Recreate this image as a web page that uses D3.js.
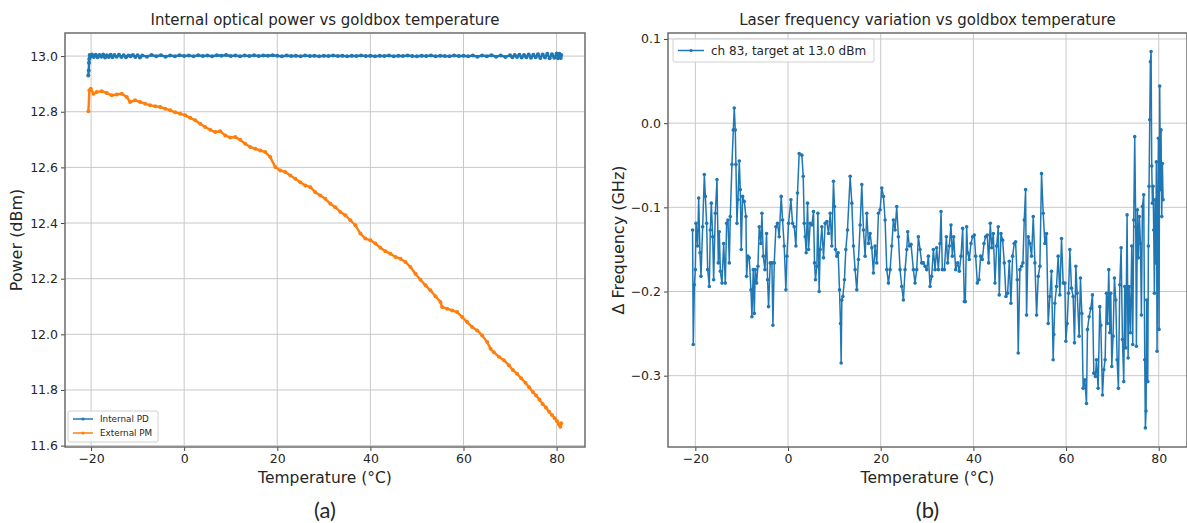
<!DOCTYPE html>
<html>
<head>
<meta charset="utf-8">
<script src="https://cdn.jsdelivr.net/npm/d3@7"></script>
<style>
  body { margin: 0; background: #fff; }
  svg text { font-family: 'DejaVu Sans', sans-serif; fill: #262626; }
</style>
</head>
<body>
<div id="chart"></div>
<script>
// ---- data ----
var tempTicks = [-20, 0, 20, 40, 60, 80]
var powerTicks = [11.6, 11.8, 12.0, 12.2, 12.4, 12.6, 12.8, 13.0]
var freqTicks = [-0.3, -0.2, -0.1, 0.0, 0.1]

// internal PD (temperature, dBm)
var intPdTemp = [-20.6, -20.5, -20.45, -20.4, -20.3, -20.1, -19.8, -19.4, -19.0, -18.6, -18.2, -17.8, -17.4, -17.0, -16.6, -16.2, -15.8, -15.4, -15.0, -14.5, -14.0, -13.5, -13.0, -12.5, -12.0, -11.5, -11.0, -10.5, -10.0, -9.5, -9.0, -8, -7, -6, -5, -4, -3, -2, -1, 0, 1, 2, 3, 4, 5, 6, 7, 8, 9, 10, 11, 12, 13, 14, 15, 16, 17, 18, 19, 20, 21, 22, 23, 24, 25, 26, 27, 28, 29, 30, 31, 32, 33, 34, 35, 36, 37, 38, 39, 40, 41, 42, 43, 44, 45, 46, 47, 48, 49, 50, 51, 52, 53, 54, 55, 56, 57, 58, 59, 60, 61, 62, 63, 64, 65, 66, 67, 68, 69, 70, 70.5, 71, 71.5, 72, 72.5, 73, 73.5, 74, 74.5, 75, 75.5, 76, 76.5, 77, 77.5, 78, 78.5, 79, 79.5, 80, 80.3, 80.6, 80.9, 81.0]
var intPdPower = [12.93, 12.948, 12.976, 12.99, 13.004, 12.998, 13.006, 12.997, 13.005, 12.996, 13.004, 12.998, 13.006, 12.995, 13.003, 12.997, 13.005, 12.996, 13.004, 12.998, 13.005, 12.997, 13.003, 12.996, 13.002, 12.999, 13.004, 12.997, 13.003, 12.995, 13.002, 12.998, 13.004, 12.999, 13.003, 12.998, 13.002, 12.999, 13.003, 13.0, 13.002, 12.999, 13.003, 13.0, 13.002, 12.999, 13.003, 13.001, 13.004, 13.0, 13.002, 12.999, 13.002, 13.0, 13.003, 13.0, 13.002, 13.001, 13.003, 13.001, 12.999, 13.002, 13.0, 13.001, 12.999, 13.002, 13.0, 13.001, 12.999, 13.001, 13.0, 13.002, 13.0, 13.001, 12.999, 13.001, 13.0, 13.002, 13.0, 13.001, 12.999, 13.001, 13.0, 13.002, 12.999, 13.001, 13.0, 13.002, 13.0, 12.999, 13.001, 13.0, 13.002, 12.999, 13.001, 13.0, 12.999, 13.002, 13.0, 13.001, 12.999, 13.002, 12.998, 13.002, 12.999, 13.003, 12.998, 13.002, 12.997, 13.003, 12.996, 13.004, 12.997, 13.005, 12.995, 13.004, 12.996, 13.006, 12.994, 13.005, 12.996, 13.007, 12.993, 13.006, 12.995, 13.008, 12.992, 13.007, 12.994, 13.009, 12.992, 13.008, 12.993, 13.004]

// external PM (temperature, dBm)
var extPmTemp = [-20.57, -20.36, -20.07, -19.5, -18.78, -17.71, -16.63, -15.56, -14.48, -13.4, -12.33, -11.61, -10.54, -9.46, -8.39, -7.31, -6.24, -5.16, -4.09, -3.01, -1.94, -0.86, 0.22, 1.29, 2.37, 3.44, 4.52, 5.59, 6.67, 7.74, 8.82, 9.89, 10.97, 12.04, 13.12, 14.19, 15.27, 16.34, 17.42, 18.49, 19.57, 20.65, 21.72, 22.8, 23.87, 24.95, 26.02, 27.1, 28.17, 29.25, 30.32, 31.4, 32.47, 33.55, 34.62, 35.7, 36.77, 37.85, 38.92, 40.0, 41.08, 42.15, 43.23, 44.3, 45.38, 46.45, 47.53, 48.6, 49.68, 50.75, 51.83, 52.9, 53.98, 55.05, 55.41, 56.49, 57.56, 58.64, 59.71, 60.79, 61.86, 62.94, 64.01, 65.09, 65.81, 66.52, 67.6, 68.67, 69.75, 70.6, 71.5, 72.4, 73.3, 74.1, 74.9, 75.6, 76.3, 77.0, 77.7, 78.4, 79.0, 79.6, 80.1, 80.5, 80.8, 81.0]
var extPmPower = [12.802, 12.877, 12.883, 12.865, 12.871, 12.874, 12.867, 12.859, 12.862, 12.865, 12.853, 12.835, 12.841, 12.835, 12.829, 12.823, 12.82, 12.817, 12.811, 12.805, 12.798, 12.793, 12.787, 12.778, 12.769, 12.757, 12.745, 12.735, 12.727, 12.73, 12.715, 12.707, 12.709, 12.699, 12.685, 12.673, 12.667, 12.661, 12.655, 12.637, 12.601, 12.589, 12.583, 12.571, 12.559, 12.547, 12.535, 12.529, 12.511, 12.499, 12.487, 12.469, 12.457, 12.44, 12.428, 12.41, 12.392, 12.362, 12.344, 12.338, 12.326, 12.311, 12.299, 12.29, 12.278, 12.272, 12.26, 12.242, 12.218, 12.196, 12.176, 12.158, 12.137, 12.116, 12.098, 12.092, 12.086, 12.08, 12.062, 12.044, 12.026, 12.014, 11.996, 11.972, 11.948, 11.936, 11.919, 11.907, 11.889, 11.872, 11.858, 11.842, 11.826, 11.81, 11.793, 11.78, 11.766, 11.75, 11.737, 11.722, 11.71, 11.698, 11.688, 11.676, 11.668, 11.68]

// laser frequency variation (temperature, GHz)
var freqTemp = [-20.6, -20.45, -20.2, -20.0, -19.86, -19.5, -19.28, -19.0, -18.78, -18.42, -18.06, -17.84, -17.56, -17.34, -16.98, -16.77, -16.55, -16.26, -16.05, -15.69, -15.33, -15.04, -14.83, -14.6, -14.25, -13.89, -13.53, -13.25, -12.96, -12.67, -12.46, -12.1, -11.81, -11.6, -11.38, -11.24, -11.02, -10.8, -10.52, -10.3, -10.09, -9.8, -9.44, -9.08, -8.94, -8.65, -8.36, -8.0, -7.79, -7.5, -7.28, -7.07, -6.78, -6.49, -6.21, -5.85, -5.63, -5.34, -4.98, -4.63, -4.41, -4.2, -3.84, -3.48, -3.26, -2.97, -2.61, -2.26, -1.9, -1.47, -1.18, -0.82, -0.46, -0.24, 0.11, 0.62, 0.98, 1.34, 1.7, 2.05, 2.41, 2.99, 3.28, 3.5,
  3.71, 3.92, 4.21, 4.43, 4.79, 5.14, 5.5, 5.72, 5.93, 6.22, 6.44, 6.72, 6.94, 7.3, 7.66, 8.02, 8.38, 8.74, 9.1, 9.45, 9.81, 10.03, 10.24, 10.53, 10.82, 11.11, 11.32, 11.47, 11.61, 11.83, 12.18, 12.47, 12.83, 13.41, 13.77, 14.12, 14.48, 14.84, 15.2, 15.56, 15.92, 16.28, 16.64, 17.0, 17.36, 17.72, 18.08, 18.43, 18.79, 19.15, 19.51, 19.87, 20.23, 20.59, 20.95, 21.31, 21.67, 22.03, 22.39, 22.74, 23.1, 23.46, 23.82, 24.18, 24.54, 24.9, 25.26, 25.62, 25.83, 26.19, 26.55, 27.05, 27.41, 27.77, 28.13, 28.49, 28.85, 29.21, 29.57,
  29.93, 30.29, 30.65, 31.0, 31.37, 31.73, 32.08, 32.44, 32.8, 33.02, 33.3, 33.74, 34.17, 34.46, 34.81, 35.17, 35.46, 35.75, 36.18, 36.61, 36.97, 37.33, 37.69, 38.05, 38.26, 38.55, 38.77, 39.12, 39.48, 39.84, 40.2, 40.49, 40.85, 41.21, 41.57, 41.93, 42.29, 42.64, 43.0, 43.29, 43.65, 43.94, 44.3, 44.66, 45.02, 45.37, 45.59, 45.95, 46.31, 46.67, 47.03, 47.39, 47.75, 48.1, 48.46, 48.82, 49.11, 49.47, 49.68, 50.04, 50.4, 50.69, 50.98, 51.27, 51.48, 51.84, 52.2, 52.56, 52.92, 53.28, 53.64, 54.0, 54.35, 54.71, 55.07, 55.43, 55.79,
  56.15, 56.5, 56.86, 57.22, 57.37, 57.58, 57.94, 58.3, 58.66, 59.02, 59.38, 59.74, 59.95, 60.24, 60.53, 60.82, 61.17, 61.53, 61.82, 62.11, 62.4, 62.83, 63.11, 63.4, 63.69, 64.05, 64.41, 64.62, 64.98, 65.34, 65.7, 65.99, 66.35, 66.56, 66.92, 67.28, 67.5, 67.86, 68.14, 68.43, 68.72, 68.93, 69.22, 69.44, 69.65, 69.87, 70.15, 70.44, 70.73, 71.02, 71.3, 71.59, 71.88, 72.17, 72.45, 72.67, 72.88, 73.17, 73.39, 73.6, 73.89, 74.18, 74.39, 74.61, 74.82, 75.04, 75.18, 75.4, 75.61, 75.83, 76.05, 76.26, 76.48, 76.76, 76.98, 77.12, 77.27, 77.41, 77.63, 77.77, 77.91, 78.06, 78.2, 78.35, 78.49, 78.63, 78.78, 78.92, 79.06, 79.21, 79.35, 79.49, 79.64, 79.78, 79.93, 80.07, 80.21, 80.36, 80.5, 80.65, 80.79, 80.94]
var freqShift = [-0.127, -0.263, -0.192, -0.174, -0.119, -0.146, -0.089, -0.154, -0.182, -0.123, -0.061, -0.087, -0.119, -0.174, -0.194, -0.127, -0.095, -0.135, -0.186, -0.107, -0.067, -0.166, -0.129, -0.176, -0.19, -0.143, -0.19, -0.119, -0.115, -0.166, -0.111, -0.049, -0.008, 0.018, -0.008, -0.049, -0.119, -0.091, -0.045, -0.079, -0.15, -0.087, -0.093, -0.111, -0.182, -0.158, -0.16, -0.198, -0.23, -0.174, -0.226, -0.174, -0.19, -0.17, -0.123, -0.143, -0.107, -0.158, -0.174, -0.131, -0.186, -0.218, -0.166, -0.166, -0.24, -0.166, -0.123, -0.119, -0.135, -0.087, -0.115, -0.146, -0.198, -0.158, -0.119, -0.091, -0.119, -0.123, -0.146, -0.083, -0.036, -0.038, -0.063, -0.119,
  -0.135, -0.154, -0.095, -0.15, -0.119, -0.121, -0.105, -0.166, -0.186, -0.17, -0.107, -0.2, -0.15, -0.123, -0.16, -0.119, -0.117, -0.131, -0.107, -0.146, -0.069, -0.099, -0.15, -0.158, -0.154, -0.198, -0.238, -0.285, -0.21, -0.206, -0.186, -0.15, -0.127, -0.063, -0.095, -0.146, -0.174, -0.198, -0.162, -0.121, -0.073, -0.127, -0.158, -0.107, -0.143, -0.131, -0.148, -0.178, -0.146, -0.166, -0.107, -0.103, -0.077, -0.087, -0.115, -0.174, -0.19, -0.174, -0.146, -0.115, -0.127, -0.099, -0.135, -0.174, -0.194, -0.21, -0.174, -0.15, -0.129, -0.146, -0.144, -0.174, -0.19, -0.174, -0.135, -0.15, -0.166, -0.166, -0.17,
  -0.174, -0.158, -0.194, -0.182, -0.15, -0.174, -0.148, -0.174, -0.143, -0.105, -0.174, -0.174, -0.135, -0.166, -0.146, -0.121, -0.158, -0.135, -0.174, -0.166, -0.176, -0.158, -0.125, -0.212, -0.212, -0.123, -0.154, -0.162, -0.143, -0.135, -0.133, -0.158, -0.19, -0.186, -0.158, -0.162, -0.143, -0.135, -0.133, -0.166, -0.119, -0.148, -0.131, -0.19, -0.146, -0.123, -0.204, -0.131, -0.139, -0.166, -0.206, -0.202, -0.164, -0.214, -0.158, -0.143, -0.141, -0.186, -0.273, -0.174, -0.17, -0.166, -0.115, -0.079, -0.228, -0.135, -0.143, -0.158, -0.111, -0.166, -0.228, -0.182, -0.17, -0.06, -0.107, -0.143, -0.131,
  -0.238, -0.206, -0.176, -0.281, -0.251, -0.214, -0.194, -0.158, -0.204, -0.137, -0.19, -0.19, -0.259, -0.238, -0.202, -0.15, -0.196, -0.206, -0.261, -0.17, -0.202, -0.253, -0.184, -0.226, -0.315, -0.305, -0.333, -0.245, -0.23, -0.22, -0.204, -0.297, -0.301, -0.281, -0.315, -0.218, -0.24, -0.323, -0.293, -0.281, -0.202, -0.238, -0.174, -0.249, -0.202, -0.289, -0.253, -0.184, -0.21, -0.281, -0.315, -0.192, -0.148, -0.257, -0.307, -0.194, -0.267, -0.109, -0.279, -0.194, -0.249, -0.146, -0.263, -0.115, -0.016, -0.123, -0.265, -0.103, -0.16, -0.111, -0.143, -0.228, -0.099, -0.085, -0.281, -0.362, -0.342, -0.21, -0.307, -0.146, -0.075, 0.004, 0.073, 0.085, -0.051, -0.095, -0.075, -0.127, -0.202, -0.091, -0.166, -0.046, -0.271, -0.123, -0.018, -0.245, 0.044, -0.079, -0.008, -0.111, -0.048, -0.091]

var BLUE = '#1f77b4'
var ORANGE = '#ff7f0e'

var svg = d3.select('#chart').append('svg')
  .attr('width', 1187)
  .attr('height', 523)

function zip (xs, ys) {
  return xs.map(function (x, i) { return {x: x, y: ys[i]} })
}

// one matplotlib-like panel
function panel (opt) {
  var x = d3.scaleLinear().domain(opt.xDomain).range([opt.left, opt.right])
  var y = d3.scaleLinear().domain(opt.yDomain).range([opt.bottom, opt.top])
  var g = svg.append('g')

  // grid
  g.append('g').selectAll('line.vx').data(tempTicks).enter().append('line')
    .attr('x1', function (d) { return x(d) }).attr('x2', function (d) { return x(d) })
    .attr('y1', opt.top).attr('y2', opt.bottom)
    .attr('stroke', '#c8c8c8').attr('stroke-width', 1)
  g.append('g').selectAll('line.hy').data(opt.yTicks).enter().append('line')
    .attr('y1', function (d) { return y(d) }).attr('y2', function (d) { return y(d) })
    .attr('x1', opt.left).attr('x2', opt.right)
    .attr('stroke', '#c8c8c8').attr('stroke-width', 1)

  // series
  opt.series.forEach(function (s) {
    var line = d3.line().x(function (d) { return x(d.x) }).y(function (d) { return y(d.y) })
    g.append('path').datum(s.data)
      .attr('d', line)
      .attr('fill', 'none')
      .attr('stroke', s.color)
      .attr('stroke-width', opt.lineWidth)
      .attr('stroke-linejoin', 'round')
    g.append('g').selectAll('circle').data(s.data).enter().append('circle')
      .attr('cx', function (d) { return x(d.x) })
      .attr('cy', function (d) { return y(d.y) })
      .attr('r', opt.dot)
      .attr('fill', s.color)
  })

  // axes
  var xAxis = d3.axisBottom(x).tickValues(tempTicks).tickSize(4).tickPadding(3)
    .tickFormat(function (d) { return d < 0 ? '\u2212' + Math.abs(d) : d })
  var yAxis = d3.axisLeft(y).tickValues(opt.yTicks).tickSize(4).tickPadding(3)
    .tickFormat(function (d) { return (d < 0 ? '\u2212' : '') + Math.abs(d).toFixed(1) })
  var ax = g.append('g').attr('transform', 'translate(0,' + opt.bottom + ')').call(xAxis)
  var ay = g.append('g').attr('transform', 'translate(' + opt.left + ',0)').call(yAxis)
  ;[ax, ay].forEach(function (a) {
    a.select('.domain').remove()
    a.selectAll('line').attr('stroke', '#444')
    a.selectAll('text').attr('font-size', 12.5).attr('font-family', 'DejaVu Sans').attr('fill', '#262626')
  })

  // frame
  g.append('rect')
    .attr('x', opt.left).attr('y', opt.top)
    .attr('width', opt.right - opt.left).attr('height', opt.bottom - opt.top)
    .attr('fill', 'none').attr('stroke', '#6b6b6b').attr('stroke-width', 1.5)

  var cx = (opt.left + opt.right) / 2
  g.append('text').attr('x', cx).attr('y', 25)
    .attr('text-anchor', 'middle').attr('font-size', 15).text(opt.title)
  g.append('text').attr('x', cx).attr('y', 483)
    .attr('text-anchor', 'middle').attr('font-size', 15.5).text('Temperature (\u00b0C)')
  g.append('text')
    .attr('transform', 'translate(' + opt.yLabelX + ',' + (opt.top + opt.bottom) / 2 + ') rotate(-90)')
    .attr('text-anchor', 'middle').attr('font-size', 16).text(opt.yLabel)
  g.append('text').attr('x', cx).attr('y', 518)
    .attr('text-anchor', 'middle').attr('font-size', 22)
    .style('font-family', 'Lato, sans-serif').text(opt.caption)

  // legend
  var lg = g.append('g').attr('transform', 'translate(' + opt.legend.x + ',' + opt.legend.y + ')')
  lg.append('rect').attr('width', opt.legend.w).attr('height', opt.legend.h)
    .attr('rx', 2).attr('fill', '#fff').attr('fill-opacity', 0.8)
    .attr('stroke', '#d0d0d0')
  opt.series.forEach(function (s, i) {
    var yy = opt.legend.pad + i * opt.legend.step
    lg.append('line').attr('x1', 5).attr('x2', 5 + opt.legend.len)
      .attr('y1', yy).attr('y2', yy)
      .attr('stroke', s.color).attr('stroke-width', 1.5)
    lg.append('circle').attr('cx', 5 + opt.legend.len / 2).attr('cy', yy).attr('r', 1.6).attr('fill', s.color)
    lg.append('text').attr('x', 10 + opt.legend.len + 2).attr('y', yy)
      .attr('dy', '0.35em').attr('font-size', opt.legend.font).text(s.name)
  })
}

panel({
  left: 65, right: 585, top: 33, bottom: 447,
  xDomain: [-25.6, 86.1], yDomain: [11.595, 13.083],
  yTicks: powerTicks,
  lineWidth: 2.4, dot: 2,
  title: 'Internal optical power vs goldbox temperature',
  yLabel: 'Power (dBm)', yLabelX: 22, caption: '(a)',
  series: [
    {name: 'Internal PD', color: BLUE, data: zip(intPdTemp, intPdPower)},
    {name: 'External PM', color: ORANGE, data: zip(extPmTemp, extPmPower)}
  ],
  legend: {x: 68, y: 411, w: 90, h: 31, pad: 8, step: 14, len: 20, font: 8.8}
})

panel({
  left: 668, right: 1187, top: 33, bottom: 447,
  xDomain: [-25.9, 86.1], yDomain: [-0.3847, 0.1071],
  yTicks: freqTicks,
  lineWidth: 1.5, dot: 1.8,
  title: 'Laser frequency variation vs goldbox temperature',
  yLabel: '\u0394 Frequency (GHz)', yLabelX: 624, caption: '(b)',
  series: [
    {name: 'ch 83, target at 13.0 dBm', color: BLUE, data: zip(freqTemp, freqShift)}
  ],
  legend: {x: 673, y: 39, w: 201, h: 23, pad: 11.5, step: 14, len: 26, font: 12}
})
</script>
</body>
</html>
